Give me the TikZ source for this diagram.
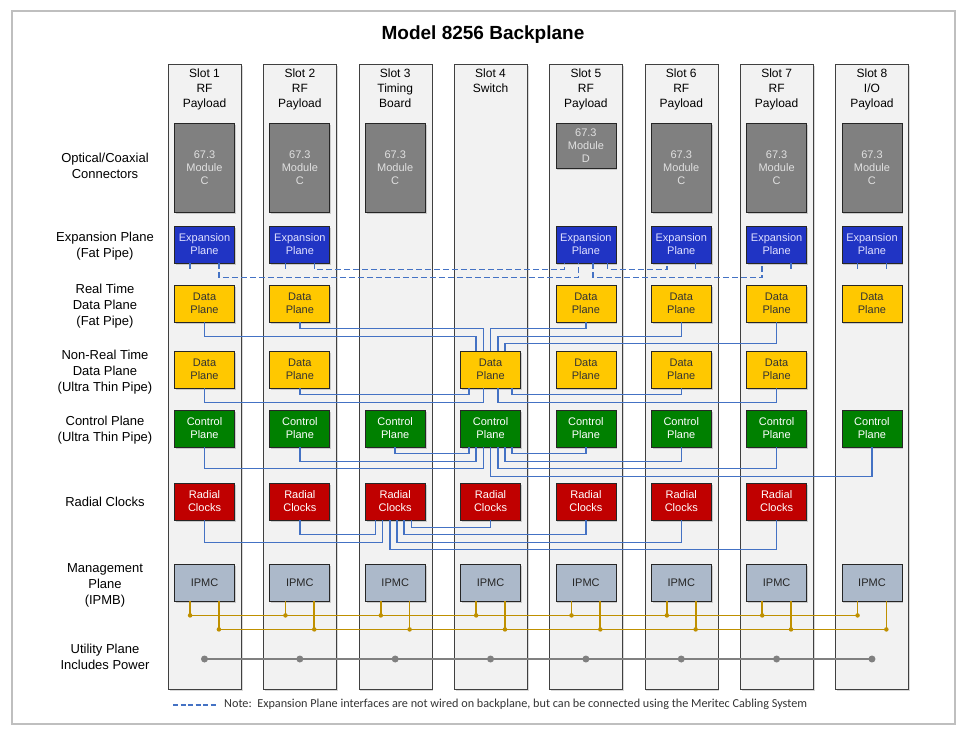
\documentclass[tikz,border=0pt]{standalone}
\usepackage{fontspec}
\setmainfont{Liberation Sans}
\newfontfamily\notefont{Carlito}
\usetikzlibrary{shadows}
\definecolor{wireblue}{RGB}{68,114,196}
\definecolor{expblue}{RGB}{32,52,196}
\definecolor{datayellow}{RGB}{255,200,0}
\definecolor{ctrlgreen}{RGB}{0,128,0}
\definecolor{clkred}{RGB}{192,0,0}
\definecolor{ipmcgray}{RGB}{172,185,202}
\definecolor{modgray}{RGB}{128,128,128}
\definecolor{slotfill}{RGB}{242,242,242}
\definecolor{ipmbgold}{RGB}{191,144,0}
\definecolor{framegray}{RGB}{191,191,191}
\begin{document}
\begin{tikzpicture}[x=1pt, y=-1pt,
    slotbox/.style={draw=black!75, fill=slotfill, minimum width=73pt, minimum height=625pt, inner sep=0pt,
        drop shadow={shadow xshift=1.5pt, shadow yshift=-1.5pt, opacity=0.3}},
    planebox/.style={draw=black!85, line width=0.8pt, minimum width=60pt, minimum height=37pt, inner sep=0pt,
        align=center, font=\fontsize{11}{13}\selectfont,
        drop shadow={shadow xshift=1.5pt, shadow yshift=-1.5pt, opacity=0.35}},
    modbox/.style={planebox, fill=modgray, text=black!12, minimum height=89pt},
    expbox/.style={planebox, fill=expblue, text=white!88!blue},
    databox/.style={planebox, fill=datayellow, text=black!80},
    ctrlbox/.style={planebox, fill=ctrlgreen, text=white!92},
    clkbox/.style={planebox, fill=clkred, text=white!92},
    ipmcbox/.style={planebox, fill=ipmcgray, text=black!85},
    rowlabel/.style={align=center, inner sep=0pt, font=\fontsize{13}{16}\selectfont},
    slothead/.style={align=center, anchor=north, inner sep=0pt, font=\fontsize{12}{15}\selectfont},
    wire/.style={wireblue, line width=1.5pt},
    expwire/.style={wire, dash pattern=on 6pt off 3pt},
    ipmb/.style={ipmbgold, line width=1.7pt},
    ipmbdot/.style={circle, fill=ipmbgold, inner sep=0pt, minimum size=4.5pt},
    power/.style={black!50, line width=2pt},
    powerdot/.style={circle, fill=black!50, inner sep=0pt, minimum size=7pt}]
    \useasboundingbox (0,0) rectangle (968,737);
    \draw[framegray, line width=1.5pt] (12,11) rectangle (955,724);

    % Title
    \node[anchor=base, font=\bfseries\fontsize{19}{22}\selectfont] (title) at (483,39.5) {Model 8256 Backplane};

    % Row positions
    \coordinate (rowhead) at (0,69);
    \coordinate (rowmod) at (0,167.5);
    \coordinate (rowexp) at (0,244.5);
    \coordinate (rowrt) at (0,303.5);
    \coordinate (rownrt) at (0,369.5);
    \coordinate (rowctl) at (0,428.5);
    \coordinate (rowclk) at (0,501.5);
    \coordinate (rowipmc) at (0,582.5);
    \coordinate (rowpwr) at (0,659);

    % Slots
    \foreach \i in {1,...,8} {
        \node[slotbox] (s\i) at ({204.5+95.35*(\i-1)},376.5) {};
    }
    \node[slothead] (h1) at (s1 |- rowhead) {Slot 1\\RF\\Payload};
    \node[slothead] (h2) at (s2 |- rowhead) {Slot 2\\RF\\Payload};
    \node[slothead] (h3) at (s3 |- rowhead) {Slot 3\\Timing\\Board};
    \node[slothead] (h4) at (s4 |- rowhead) {Slot 4\\Switch};
    \node[slothead] (h5) at (s5 |- rowhead) {Slot 5\\RF\\Payload};
    \node[slothead] (h6) at (s6 |- rowhead) {Slot 6\\RF\\Payload};
    \node[slothead] (h7) at (s7 |- rowhead) {Slot 7\\RF\\Payload};
    \node[slothead] (h8) at (s8 |- rowhead) {Slot 8\\I/O\\Payload};

    % Row labels
    \node[rowlabel] (lmod) at (105,166) {Optical/Coaxial\\Connectors};
    \node[rowlabel] (lexp) at (105,246.5) {Expansion Plane\\(Fat Pipe)};
    \node[rowlabel] (lrt) at (105,306) {Real Time\\Data Plane\\(Fat Pipe)};
    \node[rowlabel] (lnrt) at (105,372) {Non-Real Time\\Data Plane\\(Ultra Thin Pipe)};
    \node[rowlabel] (lctl) at (105,430) {Control Plane\\(Ultra Thin Pipe)};
    \node[rowlabel] (lclk) at (105,502) {Radial Clocks};
    \node[rowlabel] (lipmc) at (105,585) {Management\\Plane\\(IPMB)};
    \node[rowlabel] (lpwr) at (105,657) {Utility Plane\\Includes Power};

    % Connector modules
    \foreach \i in {1,2,3,6,7,8} {
        \node[modbox] (m\i) at (s\i |- rowmod) {67.3\\Module\\C};
    }
    \node[modbox, minimum height=45pt] (m5) at ([yshift=22pt]s5 |- rowmod) {67.3\\Module\\D};

    % Plane boxes
    \foreach \i in {1,2,5,6,7,8} {
        \node[expbox] (ex\i) at (s\i |- rowexp) {Expansion\\Plane};
        \node[databox] (rt\i) at (s\i |- rowrt) {Data\\Plane};
    }
    \foreach \i in {1,2,4,5,6,7} {
        \node[databox] (nrt\i) at (s\i |- rownrt) {Data\\Plane};
    }
    \foreach \i in {1,...,8} {
        \node[ctrlbox] (cp\i) at (s\i |- rowctl) {Control\\Plane};
        \node[ipmcbox] (ip\i) at (s\i |- rowipmc) {IPMC};
    }
    \foreach \i in {1,...,7} {
        \node[clkbox] (rc\i) at (s\i |- rowclk) {Radial\\Clocks};
    }

    % Expansion plane (not wired)
    \draw[expwire] ([xshift=-14.4pt]ex1.south) -- ++(0,6);
    \draw[expwire] ([xshift=-14.4pt]ex2.south) -- ++(0,6);
    \draw[expwire] ([xshift=14.4pt]ex6.south) -- ++(0,6);
    \draw[expwire] ([xshift=14.4pt]ex7.south) -- ++(0,6);
    \draw[expwire] ([xshift=-14.4pt]ex8.south) -- ++(0,6);
    \draw[expwire] ([xshift=14.4pt]ex8.south) -- ++(0,6);
    \draw[expwire] ([xshift=14.4pt]ex2.south) -- ++(0,6) -| ([xshift=-21.6pt]ex5.south);
    \draw[expwire] ([xshift=14.4pt]ex1.south) -- ++(0,14) -| ([xshift=-7.2pt]ex5.south);
    \draw[expwire] ([xshift=7.2pt]ex5.south) -- ++(0,14) -| ([xshift=-14.4pt]ex7.south);
    \draw[expwire] ([xshift=21.6pt]ex5.south) -- ++(0,6) -| ([xshift=-14.4pt]ex6.south);

    % Real time data plane
    \draw[wire] (rt1.south) -- ++(0,14) -| ([xshift=-14.4pt]nrt4.north);
    \draw[wire] (rt2.south) -- ++(0,6) -| ([xshift=-7.2pt]nrt4.north);
    \draw[wire] (rt5.south) -- ++(0,6) -| (nrt4.north);
    \draw[wire] (rt6.south) -- ++(0,14) -| ([xshift=7.2pt]nrt4.north);
    \draw[wire] (rt7.south) -- ++(0,21) -| ([xshift=14.4pt]nrt4.north);

    % Non-real time data plane
    \draw[wire] (nrt1.south) -- ++(0,14) -| ([xshift=-7.2pt]nrt4.south);
    \draw[wire] (nrt2.south) -- ++(0,6) -| ([xshift=-21.6pt]nrt4.south);
    \draw[wire] (nrt6.south) -- ++(0,6) -| ([xshift=21.6pt]nrt4.south);
    \draw[wire] (nrt7.south) -- ++(0,14) -| ([xshift=7.2pt]nrt4.south);

    % Control plane
    \draw[wire] (cp1.south) -- ++(0,21) -| ([xshift=-7.2pt]cp4.south);
    \draw[wire] (cp2.south) -- ++(0,14) -| ([xshift=-14.4pt]cp4.south);
    \draw[wire] (cp3.south) -- ++(0,6) -| ([xshift=-21.6pt]cp4.south);
    \draw[wire] (cp5.south) -- ++(0,6) -| ([xshift=21.6pt]cp4.south);
    \draw[wire] (cp6.south) -- ++(0,14) -| ([xshift=14.4pt]cp4.south);
    \draw[wire] (cp7.south) -- ++(0,21) -| ([xshift=7.2pt]cp4.south);
    \draw[wire] (cp8.south) -- ++(0,29) -| (cp4.south);

    % Radial clocks
    \draw[wire] (rc1.south) -- ++(0,22) -| ([xshift=-12.6pt]rc3.south);
    \draw[wire] (rc2.south) -- ++(0,14) -| ([xshift=-19.8pt]rc3.south);
    \draw[wire] (rc4.south) -- ++(0,7) -| ([xshift=16.2pt]rc3.south);
    \draw[wire] (rc5.south) -- ++(0,14) -| ([xshift=9pt]rc3.south);
    \draw[wire] (rc6.south) -- ++(0,22) -| ([xshift=1.8pt]rc3.south);
    \draw[wire] (rc7.south) -- ++(0,29) -| ([xshift=-5.4pt]rc3.south);

    % Management plane (IPMB)
    \foreach \i in {1,...,8} {
        \draw[ipmb] ([xshift=-14.4pt]ip\i.south) -- ++(0,14) node[ipmbdot] (pa\i) {};
        \draw[ipmb] ([xshift=14.4pt]ip\i.south) -- ++(0,28) node[ipmbdot] (pb\i) {};
    }
    \draw[ipmb] (pa1.center) -- (pa8.center);
    \draw[ipmb] (pb1.center) -- (pb8.center);

    % Utility plane
    \foreach \i in {1,...,8} {
        \node[powerdot] (u\i) at (s\i |- rowpwr) {};
    }
    \draw[power] (u1.center) -- (u8.center);

    % Note
    \coordinate (leg1) at (173,705);
    \coordinate (leg2) at (216,705);
    \draw[expwire, dash pattern=on 5pt off 2.5pt] (leg1) -- (leg2);
    \node[anchor=west, inner sep=0pt, text=black!80, font=\notefont\fontsize{12.2}{14}\selectfont] (note) at (224,704)
        {Note:\ \ Expansion Plane interfaces are not wired on backplane, but can be connected using the Meritec Cabling System};
\end{tikzpicture}
\end{document}
